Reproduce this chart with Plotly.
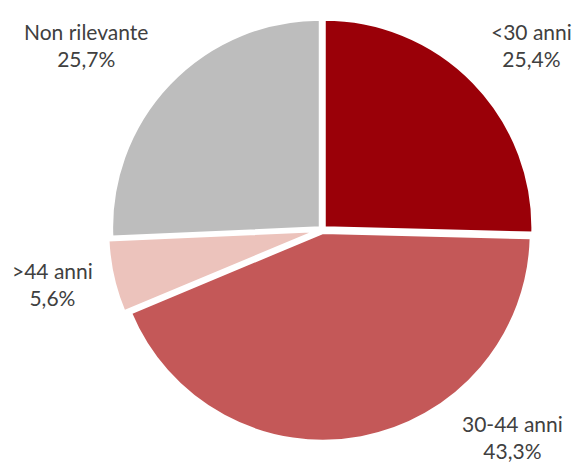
import plotly.graph_objects as go

labels = ["<30 anni", "30-44 anni", ">44 anni", "Non rilevante"]
values = [25.4, 43.3, 5.6, 25.7]
colors = ["#9A0008", "#C45858", "#ECC3BC", "#BDBDBD"]

# label anchor positions (paper coords) for the outside labels
label_pos = [(0.922, 0.903), (0.889, 0.062), (0.092, 0.39), (0.149, 0.903)]

fig = go.Figure(go.Pie(
    labels=labels, values=values, sort=False, direction="clockwise", rotation=0,
    marker=dict(colors=colors, line=dict(color="#FFFFFF", width=2.5)),
    pull=[0.015, 0.015, 0.03, 0.015],
    textinfo="none", hoverinfo="label+percent", showlegend=False,
    domain=dict(x=[0.187, 0.932], y=[0.047, 0.967]),
))

for lab, val, (x, y) in zip(labels, values, label_pos):
    fig.add_annotation(
        x=x, y=y, xref="paper", yref="paper", showarrow=False,
        text=f"{lab}<br>{val:.1f}%".replace(".", ","),
        font=dict(family="Lato, Open Sans, sans-serif", size=21, color="#404040"),
        align="center", xanchor="center", yanchor="middle",
    )

fig.update_layout(
    width=576, height=466, margin=dict(l=0, r=0, t=0, b=0),
    paper_bgcolor="white", plot_bgcolor="white",
)
fig.write_html(
    "out.html",
    config={"displayModeBar": False},
    post_script="document.body.style.margin='0';document.body.style.overflow='hidden';",
)
